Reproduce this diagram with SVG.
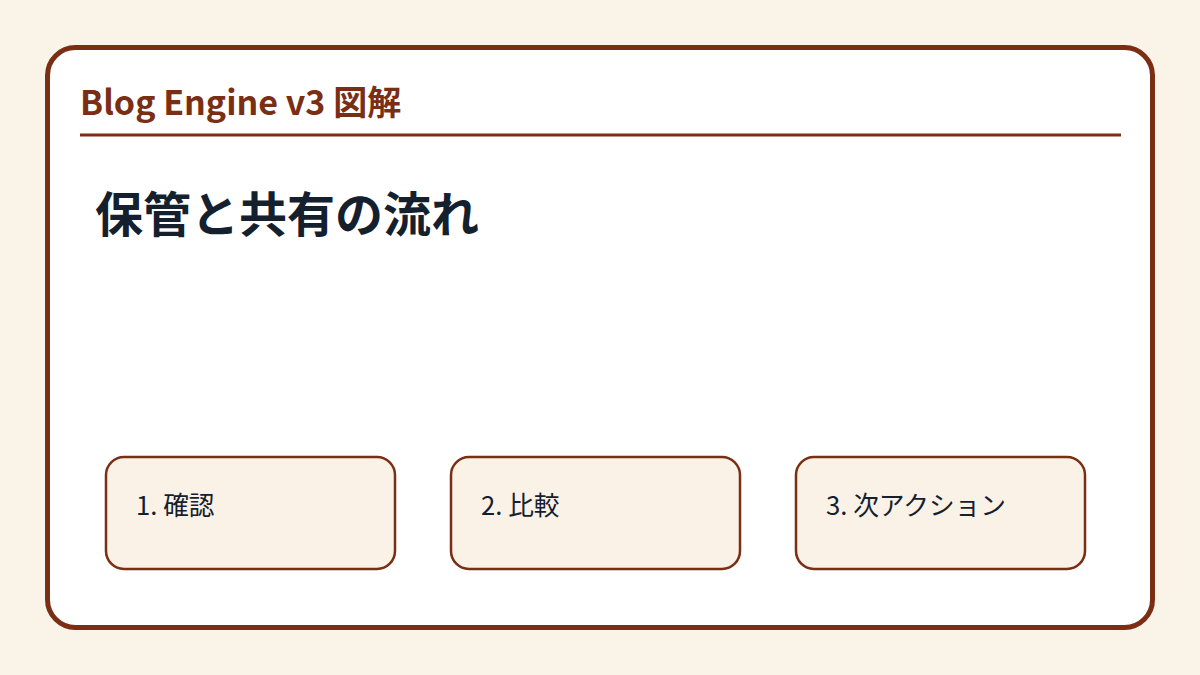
<svg xmlns="http://www.w3.org/2000/svg" width="1200" height="675" viewBox="0 0 1200 675">
<style>
.hdr{font-family:"Noto Sans CJK JP","Noto Sans",sans-serif;font-weight:700;font-size:34px;fill:#7a2e14}
.ttl{font-family:"Noto Sans CJK JP","Noto Sans",sans-serif;font-weight:700;font-size:48px;fill:#15202e}
.box{fill:#faf2e7;stroke:#7a2e14;stroke-width:2.5}
.lbl{font-family:"Noto Sans CJK JP","Noto Sans",sans-serif;font-size:25.7px;fill:#15202e}
</style>
<rect width="1200" height="675" fill="#faf3e8"/>
<rect x="47.5" y="47.5" width="1105" height="580" rx="28" fill="#ffffff" stroke="#7a2e14" stroke-width="5"/>
<text class="hdr" x="80" y="115">Blog Engine v3 図解</text>
<line x1="80" y1="135" x2="1121" y2="135" stroke="#7a2e14" stroke-width="3"/>
<text class="ttl" x="95" y="232">保管と共有の流れ</text>
<g id="connectors"></g>
<g id="node1"><rect class="box" x="106" y="457" width="289" height="112" rx="18"/><text class="lbl" x="136" y="515">1. 確認</text></g>
<g id="node2"><rect class="box" x="451" y="457" width="289" height="112" rx="18"/><text class="lbl" x="481" y="515">2. 比較</text></g>
<g id="node3"><rect class="box" x="796" y="457" width="289" height="112" rx="18"/><text class="lbl" x="826" y="515">3. 次アクション</text></g>
</svg>
